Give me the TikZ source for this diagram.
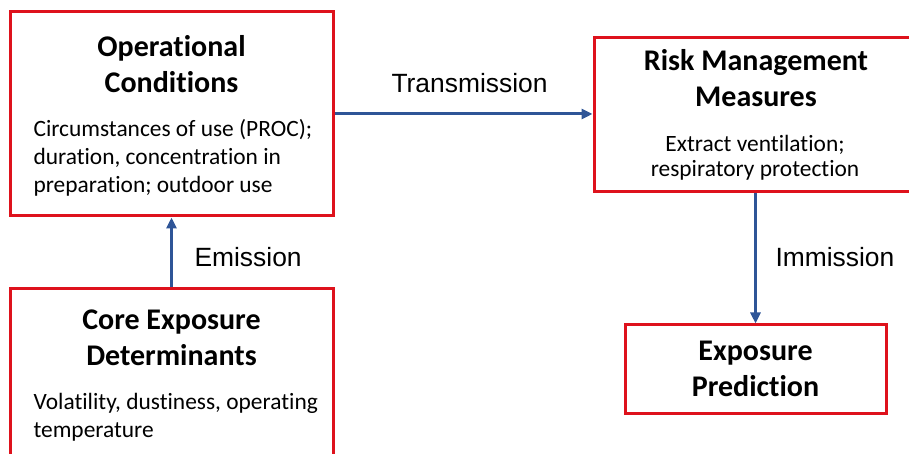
\documentclass[tikz,border=0pt]{standalone}
\usepackage{fontspec}
\setmainfont{Carlito}[Ligatures=NoCommon]
\newfontfamily\labelfont{Liberation Sans}
\usetikzlibrary{arrows.meta}
\usepackage{xcolor}
\definecolor{boxred}{RGB}{222,18,28}
\definecolor{flowblue}{RGB}{47,85,151}

\begin{document}
\begin{tikzpicture}[x=1pt,y=1pt,
  box/.style={draw=boxred,line width=3pt,inner sep=0pt},
  title/.style={font=\fontsize{30}{36}\selectfont\bfseries,align=center,anchor=base},
  body/.style={font=\fontsize{23.4}{28}\selectfont,align=left,anchor=base west},
  flow/.style={draw=flowblue,line width=3pt,-{Triangle[length=11pt,width=10pt]}},
  flowlabel/.style={font=\labelfont\fontsize{26.4}{30}\selectfont,anchor=base west}]
  \useasboundingbox (0,0) rectangle (909,454);
  \clip (0,0) rectangle (909,454);
  % boxes
  \node[box,minimum width=323,minimum height=204] (oc) at (171.5,340) {};
  \node[box,minimum width=323,minimum height=191] (ced) at (171.5,69.5) {};
  \node[box,minimum width=346,minimum height=154] (rmm) at (767,339) {};
  \node[box,minimum width=261,minimum height=89] (ep) at (755.5,84.5) {};
  % texts (base = last line)
  \node[title] (octitle) at (171.5,361) {Operational\\Conditions};
  \node[body] (ocbody) at (30,261) {Circumstances of use (PROC);\\duration, concentration in\\preparation; outdoor use};
  \node[title] (cedtitle) at (171.5,88) {Core Exposure\\Determinants};
  \node[body] (cedbody) at (30,16) {Volatility, dustiness, operating\\temperature};
  \node[title] (rmmtitle) at (756,347) {Risk Management\\Measures};
  \node[body,font=\fontsize{23.4}{25.5}\selectfont,align=center,anchor=base] (rmmbody) at (755,277) {Extract ventilation;\\respiratory protection};
  \node[title] (eptitle) at (755.5,57) {Exposure\\Prediction};
  % flows
  \draw[flow] (oc.east) -- (oc.east -| rmm.west);
  \draw[flow] (ced) -- (oc);
  \draw[flow] (ep.north |- rmm.south) -- (ep.north);
  \node[flowlabel] (transmission) at (388,361) {Transmission};
  \node[flowlabel] (emission) at (191,187) {Emission};
  \node[flowlabel] (immission) at (772,187) {Immission};
\end{tikzpicture}
\end{document}
